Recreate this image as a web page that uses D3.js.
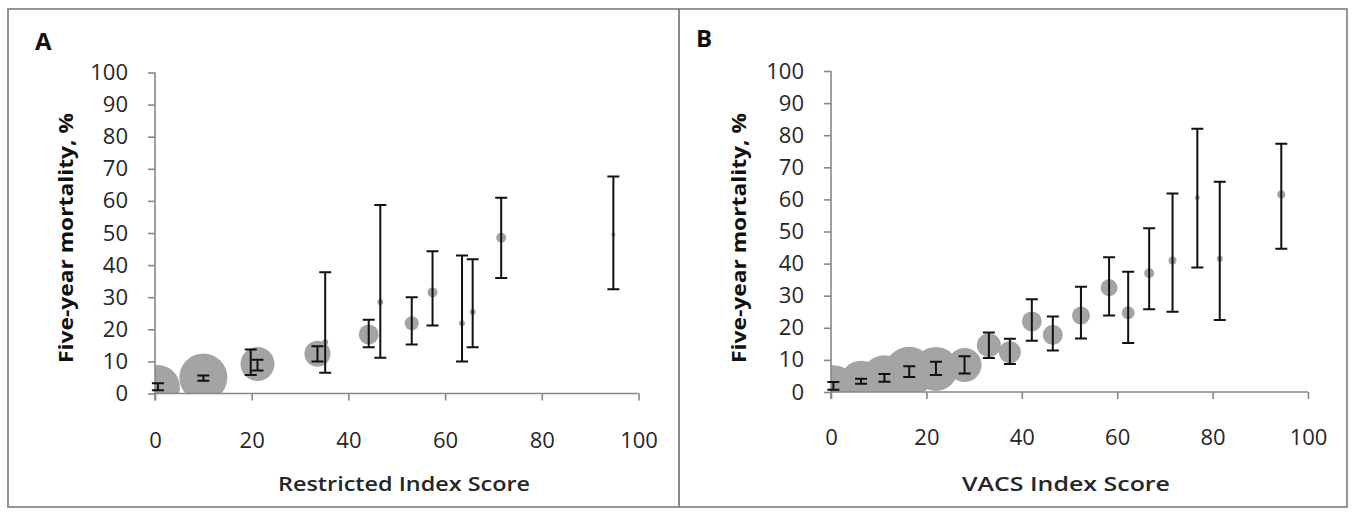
<!DOCTYPE html>
<html><head><meta charset="utf-8">
<script src="https://cdn.jsdelivr.net/npm/d3@7/dist/d3.min.js"></script>
<style>body{margin:0;background:#fff;}svg{display:block;}</style>
</head><body>
<svg id="c" width="1353" height="513"></svg>
<script>
// ---- Data ----
const xTicks = [0, 20, 40, 60, 80, 100];
const yTicks = [0, 10, 20, 30, 40, 50, 60, 70, 80, 90, 100];

// Panel A: Restricted Index
const aScore = [0.6, 10, 19.8, 21.2, 33.6, 35.2, 44.2, 46.6, 53.1, 57.4, 63.5, 65.7, 71.6, 94.8];
const aMort  = [2.0, 5.0, 9.8, 9.2, 12.4, 16, 18.4, 28.5, 21.9, 31.5, 21.9, 25.4, 48.5, 49.5];
const aLow   = [1.0, 4.0, 5.8, 7.2, 10.0, 6.5, 14.4, 11.1, 15.3, 21.2, 10.0, 14.4, 36.0, 32.5];
const aHigh  = [3.2, 5.6, 13.7, 10.5, 14.7, 37.8, 23.0, 58.7, 30.0, 44.3, 43.0, 41.8, 61.0, 67.6];
const aSize  = [484, 576, 9, 289, 169, 9, 100, 9, 49, 25, 9, 9, 25, 4];

// Panel B: VACS Index
const bScore = [0.5, 6.3, 11.2, 16.4, 22.0, 28.0, 33.1, 37.5, 42.1, 46.5, 52.4, 58.3, 62.3, 66.7, 71.6, 76.8, 81.5, 94.4];
const bMort  = [1.5, 3.2, 4.3, 6.3, 7.2, 8.4, 14.6, 12.4, 22.0, 17.8, 23.8, 32.5, 24.7, 37.0, 41.0, 60.5, 41.5, 61.5];
const bLow   = [0.7, 2.6, 3.2, 4.7, 5.3, 5.8, 10.6, 8.7, 16.0, 12.9, 16.7, 23.8, 15.3, 25.8, 25.0, 38.8, 22.4, 44.6];
const bHigh  = [3.1, 4.1, 5.6, 8.0, 9.4, 11.1, 18.5, 16.6, 28.9, 23.5, 32.8, 42.0, 37.5, 51.0, 61.8, 82.0, 65.5, 77.3];
const bSize  = [484, 441, 529, 625, 484, 289, 144, 121, 100, 100, 81, 72, 42, 25, 16, 6, 9, 16];

const panels = [
  {label: "A", xTitle: "Restricted Index Score", score: aScore, mort: aMort, low: aLow, high: aHigh, size: aSize,
   x0: 155, x1: 638.5, y0: 393.5, y1: 72.5, frame: [8, 9, 671, 498],
   labelPos: [35, 50], yTitleX: 65, xTitleX: 404, xTitleW: 252, xLabY: 439},
  {label: "B", xTitle: "VACS Index Score", score: bScore, mort: bMort, low: bLow, high: bHigh, size: bSize,
   x0: 831, x1: 1308, y0: 392, y1: 71, frame: [679, 9, 668, 498],
   labelPos: [696, 47], yTitleX: 738, xTitleX: 1066, xTitleW: 208, xLabY: 436}
];

const svg = d3.select("#c");
const axisColor = "#878787";
const font = "'Open Sans', 'Noto Sans', sans-serif";

panels.forEach((p, pi) => {
  const g = svg.append("g");
  g.append("rect").attr("x", p.frame[0]).attr("y", p.frame[1]).attr("width", p.frame[2]).attr("height", p.frame[3])
    .attr("fill", "none").attr("stroke", "#8a8a8a").attr("stroke-width", 1.8);

  const x = d3.scaleLinear().domain([0, 100]).range([p.x0, p.x1]);
  const y = d3.scaleLinear().domain([0, 100]).range([p.y0, p.y1]);
  const r = d3.scaleSqrt().domain([0, 625]).range([0, 25]);

  const cid = "clip" + pi;
  svg.append("defs").append("clipPath").attr("id", cid).append("rect")
    .attr("x", p.x0).attr("y", p.y1).attr("width", p.x1 - p.x0).attr("height", p.y0 - p.y1);

  const data = p.score.map((s, i) => ({s, m: p.mort[i], lo: p.low[i], hi: p.high[i], n: p.size[i]}));
  g.append("g").attr("clip-path", `url(#${cid})`).selectAll("circle").data(data).join("circle")
    .attr("cx", d => x(d.s)).attr("cy", d => y(d.m)).attr("r", d => r(d.n))
    .attr("fill", "#a4a4a4");

  const yAxis = d3.axisLeft(y).tickValues(yTicks).tickSize(7).tickPadding(20);
  const ya = g.append("g").attr("transform", `translate(${p.x0},0)`).call(yAxis);
  const xAxis = d3.axisBottom(x).tickValues(xTicks).tickSize(7).tickFormat(d3.format("d"));
  const xa = g.append("g").attr("transform", `translate(0,${p.y0})`).call(xAxis);
  [ya, xa].forEach(a => {
    a.select(".domain").remove();
    a.selectAll(".tick line").attr("stroke", axisColor).attr("stroke-width", 1.6);
    a.selectAll("text").attr("font-family", font).attr("font-size", 22).attr("fill", "#262626");
  });
  g.append("line").attr("x1", p.x0).attr("x2", p.x0).attr("y1", p.y1).attr("y2", p.y0 + 7)
    .attr("stroke", axisColor).attr("stroke-width", 1.6);
  g.append("line").attr("x1", p.x0).attr("x2", p.x1).attr("y1", p.y0).attr("y2", p.y0)
    .attr("stroke", axisColor).attr("stroke-width", 1.6);
  xa.selectAll(".tick text").attr("dy", null).attr("y", p.xLabY - p.y0).attr("dominant-baseline", "central");

  const eb = g.append("g").attr("stroke", "#111").attr("stroke-width", 2).attr("fill", "none");
  const cap = 6;
  eb.selectAll("path").data(data).join("path")
    .attr("d", d => {
      const cx = x(d.s), yl = y(d.lo), yh = y(d.hi);
      return `M${cx},${yh}V${yl}M${cx - cap},${yh}H${cx + cap}M${cx - cap},${yl}H${cx + cap}`;
    });

  g.append("text").attr("x", p.labelPos[0]).attr("y", p.labelPos[1]).text(p.label)
    .attr("font-family", font).attr("font-weight", 700).attr("font-size", 24).attr("fill", "#111");
  g.append("text").attr("x", p.xTitleX).attr("y", 483)
    .attr("text-anchor", "middle").attr("dominant-baseline", "central")
    .attr("font-family", font).attr("font-weight", 600).attr("font-size", 20).attr("fill", "#262626")
    .attr("textLength", p.xTitleW).attr("lengthAdjust", "spacingAndGlyphs")
    .text(p.xTitle);
  g.append("text").attr("transform", `translate(${p.yTitleX},238) rotate(-90)`)
    .attr("text-anchor", "middle").attr("dominant-baseline", "central")
    .attr("font-family", font).attr("font-weight", 700).attr("font-size", 20).attr("fill", "#111")
    .attr("textLength", 250).attr("lengthAdjust", "spacingAndGlyphs")
    .text("Five-year mortality, %");
});
</script>
</body></html>
